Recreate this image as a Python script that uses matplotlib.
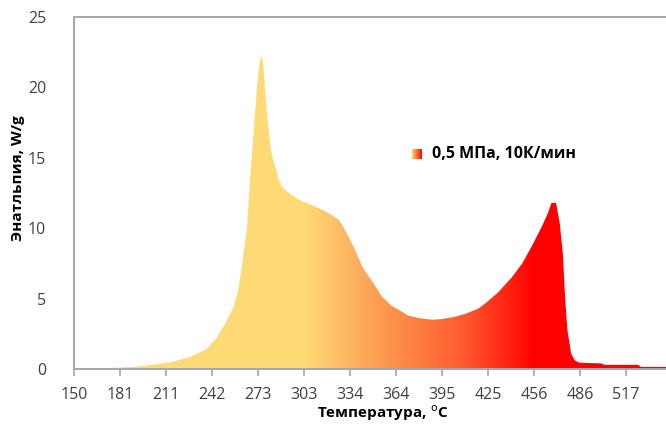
import numpy as np
import matplotlib
matplotlib.use("Agg")
import matplotlib.pyplot as plt
from matplotlib.colors import LinearSegmentedColormap

plt.rcParams['font.family'] = ['Open Sans', 'DejaVu Sans']

# Температура, °C
temps = [170, 180, 190, 195, 205, 215, 222, 227, 233, 238, 242, 245, 247, 251,
         256, 259, 261.5, 263, 265, 267, 269, 271.5, 273.5, 275, 276, 277, 278,
         279, 280, 281, 282.5, 284.5, 286, 288, 290.5, 293.5, 300, 309, 316, 322,
         326, 329, 332, 336, 342, 349, 355, 361, 366, 372, 380, 388, 395, 403,
         411, 419, 425, 432, 441, 448, 454, 461, 465, 467.5, 470.5, 473, 475,
         476.5, 478, 480.5, 483, 486, 500, 503, 525, 527, 543.6]
# Ентальпія, W/g
values = [0.05, 0.1, 0.15, 0.2, 0.33, 0.5, 0.7, 0.85, 1.15, 1.4, 1.9, 2.2, 2.6, 3.3,
          4.4, 5.5, 7.2, 8.5, 10.0, 13.4, 16.2, 19.8, 21.9, 22.2, 21.5, 19.8, 18.5,
          17.4, 16.4, 15.5, 14.8, 14.1, 13.5, 13.0, 12.7, 12.45, 12.0, 11.6, 11.25, 10.9,
          10.6, 10.1, 9.5, 8.65, 7.2, 6.1, 5.1, 4.5, 4.2, 3.8, 3.6, 3.5, 3.55, 3.7,
          3.95, 4.3, 4.8, 5.45, 6.5, 7.5, 8.65, 10.1, 11.05, 11.8, 11.8, 10.3, 8.2,
          5.1, 2.8, 1.1, 0.6, 0.45, 0.4, 0.3, 0.3, 0.15, 0.15]

tick_labels = ['150', '181', '211', '242', '273', '303', '334', '364', '395',
               '425', '456', '486', '517']
label_text = '0,5 МПа, 10К/мин'

# градієнт жовтий -> червоний
cmap = LinearSegmentedColormap.from_list('yr', [
    (0.0, '#FEDA76'), (0.39, '#FEDA76'), (0.52, '#FC9A50'),
    (0.66, '#FF5A2E'), (0.78, '#FF0000'), (1.0, '#FF0000')])

xmin, xmax = 150, 543.6
step = (517 - 150) / 12

fig = plt.figure(figsize=(6.66, 4.26), dpi=100)
ax = fig.add_axes([74 / 666, 57 / 426, 592 / 666, 352 / 426])

poly = ax.fill_between(temps, values, 0, facecolor='none', edgecolor='none')
grad = np.linspace(0, 1, 512).reshape(1, -1)
im = ax.imshow(grad, cmap=cmap, aspect='auto', extent=[xmin, xmax, 0, 25],
               origin='lower', interpolation='bilinear')
im.set_clip_path(poly.get_paths()[0], transform=ax.transData)

ax.set_xlim(xmin, xmax)
ax.set_ylim(0, 25)
ax.set_xticks([xmin + step * i for i in range(13)])
ax.set_xticklabels(tick_labels)
ax.set_yticks([0, 5, 10, 15, 20, 25])

for s in ['left', 'bottom', 'top']:
    ax.spines[s].set_color('#A6A6A6')
    ax.spines[s].set_linewidth(1.4)
ax.spines['right'].set_visible(False)
ax.tick_params(axis='x', length=5, width=1.2, color='#A6A6A6',
               labelsize=11.5, labelcolor='#404040', pad=8)
ax.tick_params(axis='y', length=0, labelsize=11.5, labelcolor='#404040', pad=20)

fig.text(383 / 666, 1 - 413 / 426, 'Температура, $^{\\rm o}$C', ha='center',
         va='center', fontsize=11, fontweight='bold')
fig.text(18 / 666, 1 - 178 / 426, 'Энатльпия, W/g', ha='center', va='center',
         rotation=90, fontsize=11, fontweight='bold')

# легенда
sw = fig.add_axes([412 / 666, 1 - 159 / 426, 10 / 666, 10 / 426])
sw.imshow(grad, cmap=LinearSegmentedColormap.from_list('s', ['#FEDA76', '#FF0000']),
          aspect='auto')
sw.axis('off')
fig.text(432 / 666, 1 - 154 / 426, label_text, ha='left', va='center',
         fontsize=11.5, fontweight='bold')

fig.savefig('out.png', dpi=100)
